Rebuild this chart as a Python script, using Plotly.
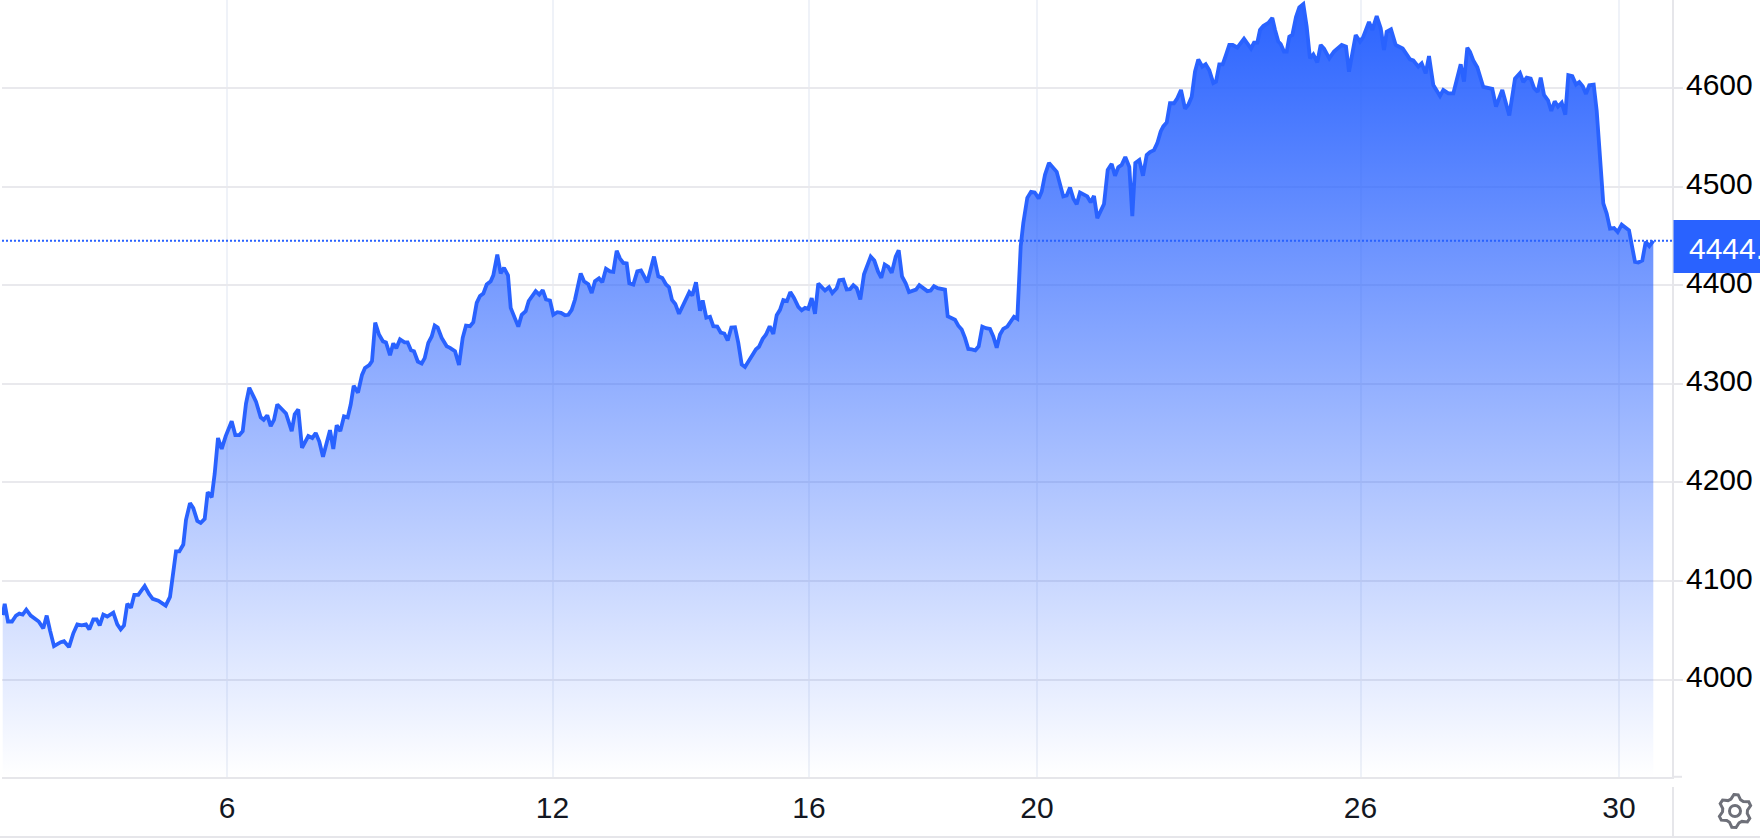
import math
import plotly.graph_objects as go

# Position along the time axis and price
session_pos = [
 2.7,4.7,8,12,16,19.3,22.7,26.3,30.7,35,38.7,43.3,46.7,50,54,60.7,64,69,73.3,77.3,81.7,86,89.3,93.3,96.7,99.7,103.3,107.3,113.3,117.3,120.7,124,127.3,131,134.3,138.3,144.7,149,152.7,158.3,165.7,170,
 172.7,176,179.3,183.3,186,190,193.3,197.3,200.7,204.7,207.7,211.7,214.7,218,221.7,225.7,231.7,235.3,239.3,242.7,246,249.3,256,260.7,263.7,267.3,270.7,274,277.3,282,286,291.7,294.7,298.3,302,308.3,312.3,315.7,319.3,323,330,333.3,336.7,340.3,344,347.7,350.7,353.7,358,362,365,369.3,372,
 375.2,379,383,386,390,393.3,396.3,400,404.6,407.6,411,414,417.8,
 421.7,424.7,428.3,431.7,434.7,437.7,441.7,446.7,450,455,459,462.7,466,470,473.3,476.7,480,483.3,486.7,490.7,493.3,497.3,500.7,504,508,510.7,514.7,518.3,521.7,525.7,528.7,531.7,535.7,539.3,542.7,546,550,553.3,557.3,561,565,568.3,571.7,575,580.7,584,588.3,591.7,595,599,602.3,606,610,613.3,616.7,620,623.3,626.7,629.3,
 633.3,637.3,641,647.3,654,658.3,662.3,666,669,672,675.3,679,689.3,692.3,696,700,702.7,706.3,710,713.3,717.3,720.7,724.3,727.7,731.3,735,738.3,741.7,745,749.3,752.7,756,759,762.7,766,769.7,773.3,776.7,780,783.3,787,790.3,794,798.3,801.7,805,808.3,811.7,815,818.3,821.7,825,829,832.3,836.7,839.3,
 843.3,846.7,850,853.3,856.7,860.3,864,867.3,870.7,874.3,878,881.3,884.7,888.3,891.7,895.7,898.7,902,905.7,909,916,919.3,923.3,927.3,930.7,934,937.7,945,947.7,951,955,958.3,961.7,965,968.3,971.7,975.3,978.7,982.3,986,990,993.3,996.7,1000,1003.3,1007.3,1011,1014,1017.3,1019.3,1020.7,1023.3,1027.3,1031,1034.7,1038.7,1041.7,1045,1049,
 1056.7,1060,1063.3,1066.7,1070,1073.3,1076.7,1080,1083.3,1087.3,1090.7,1094,1097.3,1104,1107.7,1111.7,1115,1118.3,1121.7,1125.3,1129.3,1132.3,1135.3,1139.3,1143,1146.7,1150,1154,1157.3,1160.7,1163.3,1166.7,1170,1174,1177.3,1181,1185,1188.3,1191.7,1195,1198.3,1202.3,1205.7,1209.3,1213.3,1216,1219.3,1222.7,1226,1229.3,1232.7,1237.3,1244,1251,1254,1257.3,
 1260,1263.3,1268.3,1272.3,1275,1278.3,1280.7,1284,1286.7,1289.3,1292.3,1296,1299.3,1303.3,1306.7,1310,1313.3,1317.3,1320.7,1324,1329.3,1334,1341.7,1346,1349,1352.7,1355.7,1360,1363.3,1369,1372.3,1376.7,1380.7,1384,1386.7,1391,1395.7,1402.7,1410,1413.3,1418.3,1421.7,1425.7,1429,1433.3,1440,1443.3,1448.3,1453.3,1460.7,1464,1467.3,
 1470,1473.3,1477.3,1483.3,1492.3,1496,1502.3,1509.3,1515,1520,1523.3,1526.7,1530.7,1534,1537.7,1540.7,1544,1548,1551.3,1554.7,1558,1561.7,1565.3,1568.3,1572.3,1576,1579.3,1582.7,1586,1589.3,1593.7,1596.7,1600,1603.3,1606.7,1610,1614,1617.7,1621.7,1625,1629,1635,1638.3,1642.3,1645.7,1649.3,1653.3,
]
prices = [
 4065.5,4077,4059,4059,4065,4067,4066,4071,4065,4062,4059,4052,4065,4050,4034,4038,4039,4033,4047,4056,4055,4056,4051,4061,4061,4055,4066,4064,4068,4056,4051,4055,4077,4073,4086,4086,4095,4087,4082,4080,4075,4084,
 4105,4130,4130,4137,4162,4179,4174,4161,4159,4163,4190,4185,4209,4245,4234,4247,4262,4248,4248,4252,4280,4296,4282,4266,4263.5,4268,4257,4263.5,4279,4274,4270,4252,4269,4274,4235,4247,4245,4250,4241.5,4226,4253,4234,4258,4252,4267,4266,4279,4298,4291,4309,4316,4319,4323,
 4362,4350,4343,4342,4329,4341,4336,4345,4342,4342,4334,4333,4322.6,
 4320.6,4326,4341.5,4348,4359,4357,4346.6,4338,4336.5,4333,4319,4346.6,4359,4358.4,4362.5,4382,4389,4391.5,4400.7,4404,4410,4431,4412,4417.6,4410,4377,4367,4358,4370,4373.6,4384,4388,4394,4390.5,4395,4385.5,4384.5,4370,4372.6,4372,4369.6,4370,4375,4385.5,4412,4404,4401,4392,4404,4407,4403,4416.6,4414,4413.5,4435,4427,4422.6,4422,4402,
 4400.7,4414,4415,4403,4429,4409,4407.4,4400.7,4398,4385,4381,4371,4393,4389.5,4403,4374,4384.5,4367,4368,4358.4,4358,4352,4351,4344,4357,4357.4,4341.5,4319.6,4317,4324.6,4329,4335,4337.5,4345.6,4350,4358.4,4350.6,4369.6,4375,4385,4384,4393,4387,4378,4374.6,4377,4376,4387,4371,4401.7,4398,4394.6,4398,4392,4397,4405,
 4405.7,4395.6,4396,4400,4397,4385.5,4411,4419,4429,4425,4414,4407.4,4421,4418.6,4412.5,4429,4435.5,4409,4402,4393,4395.6,4400,4396.6,4394,4394.6,4399,4397,4395.6,4368.6,4367,4365,4359,4355,4346.6,4335.4,4335,4334,4338,4358,4356.4,4355.7,4348,4336.5,4350,4355.7,4358,4363.5,4368,4366,4402,4439.5,4463,4488.6,4494.6,4494,4488,4495,4512,4524,
 4515,4503,4490,4491,4499,4488,4482,4494,4492.5,4490,4484,4490.5,4468,4482.4,4517,4523,4511,4519.6,4522,4530,4520,4470,4524,4527,4511,4532,4535,4537,4544,4556,4561,4565,4584.5,4584.5,4589.5,4598,4579,4583,4591,4616.6,4629,4621.6,4624,4618,4605,4606.4,4624,4624,4633.5,4643.6,4643.6,4641,4650,4640,4646,4646,
 4658.8,4662.8,4666,4671,4659,4647,4644.6,4637,4637,4652,4653.7,4672,4681.8,4685,4662,4630,4634,4626,4643.6,4640,4630,4637,4643.6,4642,4616.5,4638.5,4653.7,4647,4652,4667,4658.8,4673,4660.5,4638.5,4657,4659.5,4643.6,4640,4629,4628,4621.6,4625,4614.8,4632.4,4603,4591.9,4598,4594.5,4594.5,4624,4606.4,4640.9,
 4636.5,4628,4621,4601,4599,4581,4598,4572,4609.5,4615,4606,4610.5,4609.5,4600,4596,4610.5,4593,4587.5,4576.7,4586.5,4581,4585,4573,4613,4612,4603.4,4606,4601.7,4594,4602.7,4603.4,4577,4533,4483,4472.6,4457.4,4458,4454,4461.4,4459,4455.7,4423.6,4423,4425,4444,4439.5,4445,
]
x_tick_pos = [227, 552.5, 809, 1037, 1360.5, 1619]
x_tick_labels = ["6", "12", "16", "20", "26", "30"]
y_ticks = [4000, 4100, 4200, 4300, 4400, 4500, 4600]
last_price = 4445
last_label = "4444."

W, H = 1760, 839
BLUE = "#2962ff"
GRID_H = "#e9e9ed"
GRID_V = "#eff2f8"
AXIS = "#e6e6ea"
PLOT_BOTTOM = 776.8
PLOT_LEFT = 2
PLOT_RIGHT = 1672
Y_LOW, Y_HIGH = 3901.5, 4689.2


def px(v):
    return v / W


def py(v):
    return 1 - v / H


def gear_path(cx, cy, r_out, r_in, teeth=6):
    pts = []
    n = teeth * 4
    for i in range(n):
        a = 2 * math.pi * (i + 0.5) / n - math.pi / 2 - math.pi / n * 1.5
        r = r_out if i % 4 in (0, 1) else r_in
        pts.append((px(cx + r * math.cos(a)), py(cy + r * math.sin(a))))
    return "M" + " L".join(f"{a:.5f},{b:.5f}" for a, b in pts) + " Z"


fig = go.Figure(
    go.Scatter(
        x=session_pos,
        y=prices,
        mode="lines",
        line=dict(color=BLUE, width=3.8, shape="linear"),
        fill="tozeroy",
        fillgradient=dict(
            type="vertical",
            start=Y_LOW,
            stop=Y_HIGH,
            colorscale=[[0, "rgba(41,98,255,0)"], [1, "rgba(41,98,255,1)"]],
        ),
        hoverinfo="skip",
        showlegend=False,
    )
)

shapes = [
    dict(type="line", xref="x", yref="y", x0=PLOT_LEFT, x1=PLOT_RIGHT, y0=last_price, y1=last_price,
         line=dict(color=BLUE, width=2, dash="2px,2px"), layer="above"),
    dict(type="rect", xref="paper", yref="paper", x0=px(1673.5), x1=1, y0=py(273), y1=py(220),
         fillcolor=BLUE, line=dict(width=0), layer="above"),
    dict(type="line", xref="paper", yref="paper", x0=px(1673), x1=px(1682), y0=py(PLOT_BOTTOM), y1=py(PLOT_BOTTOM),
         line=dict(color=AXIS, width=2), layer="above"),
    dict(type="line", xref="paper", yref="paper", x0=px(1673), x1=px(1673), y0=py(787), y1=py(836),
         line=dict(color=AXIS, width=2)),
    dict(type="line", xref="paper", yref="paper", x0=0, x1=1, y0=py(837), y1=py(837),
         line=dict(color=AXIS, width=2)),
    dict(type="path", xref="paper", yref="paper", path=gear_path(1735, 811, 16.5, 12.5),
         line=dict(color="#6e7079", width=3)),
    dict(type="circle", xref="paper", yref="paper", x0=px(1729.5), x1=px(1740.5), y0=py(816.5), y1=py(805.5),
         line=dict(color="#6e7079", width=3)),
]

annotations = [
    dict(text=last_label, xref="paper", yref="paper", x=px(1687), y=py(248), xanchor="left", yanchor="middle",
         showarrow=False, font=dict(family="Liberation Sans", size=30, color="white")),
]

fig.update_layout(
    width=W,
    height=H,
    margin=dict(l=0, r=0, t=0, b=0, autoexpand=False),
    paper_bgcolor="white",
    plot_bgcolor="white",
    shapes=shapes,
    annotations=annotations,
    showlegend=False,
    xaxis=dict(
        domain=[px(PLOT_LEFT), px(PLOT_RIGHT)],
        range=[PLOT_LEFT, PLOT_RIGHT],
        tickmode="array",
        tickvals=x_tick_pos,
        ticktext=x_tick_labels,
        ticks="",
        showgrid=True,
        gridcolor=GRID_V,
        gridwidth=2,
        showline=True,
        linecolor=AXIS,
        linewidth=2,
        zeroline=False,
        tickfont=dict(family="Liberation Sans", size=30, color="#131722"),
        ticklabelstandoff=3,
        anchor="y",
        fixedrange=True,
    ),
    yaxis=dict(
        domain=[py(PLOT_BOTTOM), 1],
        range=[Y_LOW, Y_HIGH],
        side="right",
        tickmode="array",
        tickvals=y_ticks,
        ticktext=[str(v) for v in y_ticks],
        ticks="outside",
        ticklen=9,
        tickwidth=2,
        tickcolor=AXIS,
        showgrid=True,
        gridcolor=GRID_H,
        gridwidth=2,
        showline=True,
        linecolor=AXIS,
        linewidth=2,
        zeroline=False,
        tickfont=dict(family="Liberation Sans", size=30, color="#000000"),
        ticklabelstandoff=-3,
        ticklabelshift=-3,
        anchor="x",
        fixedrange=True,
    ),
)

fig.write_html(
    "out.html",
    config=dict(displayModeBar=False, responsive=False),
    post_script="document.body.style.margin='0';document.body.style.overflow='hidden';",
)
